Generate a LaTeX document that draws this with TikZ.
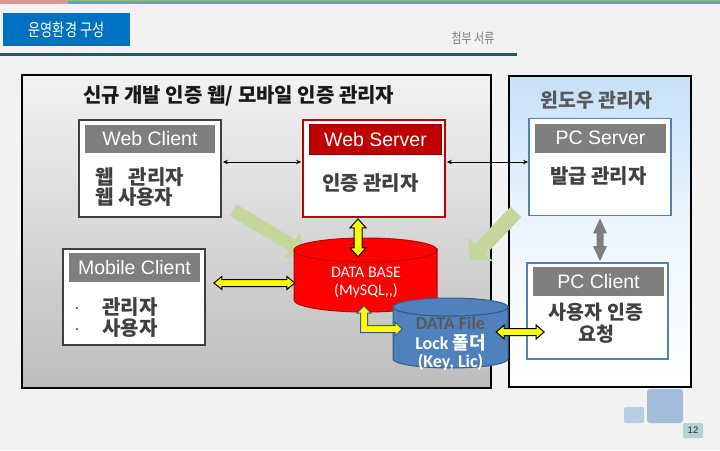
\documentclass[tikz,border=0pt]{standalone}
\usepackage{fontspec}
\setmainfont{Liberation Sans}
\newfontfamily\kr{Noto Sans CJK KR}
\newfontfamily\cb{Carlito}
\usetikzlibrary{calc,arrows.meta}
\definecolor{bg}{HTML}{F2F2F2}
\definecolor{titleblue}{HTML}{0070C0}
\definecolor{darkteal}{HTML}{215968}
\definecolor{hdrgray}{HTML}{7F7F7F}
\definecolor{boxgray}{HTML}{404040}
\definecolor{wsred}{HTML}{C00000}
\definecolor{wsredline}{HTML}{9B0000}
\definecolor{pcblue}{HTML}{4F81BD}
\definecolor{dfline}{HTML}{385D8A}
\definecolor{txtgray}{HTML}{404040}
\definecolor{titlegray}{HTML}{595959}
\definecolor{greenarr}{HTML}{C3D69B}
\definecolor{yel}{HTML}{FFFF00}
\definecolor{pinkbar}{HTML}{D99694}
\definecolor{greenbar}{HTML}{9BBB59}
\definecolor{tealbar}{HTML}{4BACC6}
\definecolor{sq1}{HTML}{B9CDE5}
\definecolor{sq2}{HTML}{A3BCDA}
\definecolor{sq3}{HTML}{B4D3D8}
\definecolor{leftTop}{HTML}{F2F2F2}
\definecolor{leftBot}{HTML}{BDBDBD}
\definecolor{rightTop}{HTML}{C6E0F8}
% double-headed block arrow: #1,#2 tips; #3 shaft half width; #4 head half width; #5 head length; #6 style
\newcommand\fatdarrow[6]{%
  \filldraw[#6] (#1) -- ($(#1)!#5!(#2)!#4!90:(#2)$) -- ($(#1)!#5!(#2)!#3!90:(#2)$)
   -- ($(#2)!#5!(#1)!#3!-90:(#1)$) -- ($(#2)!#5!(#1)!#4!-90:(#1)$) -- (#2)
   -- ($(#2)!#5!(#1)!#4!90:(#1)$) -- ($(#2)!#5!(#1)!#3!90:(#1)$)
   -- ($(#1)!#5!(#2)!#3!-90:(#2)$) -- ($(#1)!#5!(#2)!#4!-90:(#2)$) -- cycle;}
% single block arrow from #1 to tip #2
\newcommand\fatsarrow[6]{%
  \filldraw[#6] ($(#1)!#3!90:(#2)$) -- ($(#2)!#5!(#1)!#3!-90:(#1)$) -- ($(#2)!#5!(#1)!#4!-90:(#1)$)
   -- (#2) -- ($(#2)!#5!(#1)!#4!90:(#1)$) -- ($(#2)!#5!(#1)!#3!90:(#1)$)
   -- ($(#1)!#3!-90:(#2)$) -- cycle;}
\begin{document}
\begin{tikzpicture}[x=1pt,y=-1pt,
  cbox/.style={draw=#1, line width=1.8pt, fill=white, minimum width=142pt, minimum height=97pt, inner sep=0pt},
  hdr/.style={fill=hdrgray, minimum width=131pt, minimum height=29pt, inner sep=0pt, text=white,
     font=\fontsize{19.5}{20}\selectfont},
  body/.style={anchor=west, inner sep=0pt, text=txtgray, font=\kr\bfseries\fontsize{20}{21}\selectfont},
  thinarr/.style={{Stealth[length=5pt,width=4.5pt]}-{Stealth[length=5pt,width=4.5pt]}, line width=1pt, black},
  yarrow/.style={fill=yel, draw=black, line width=1pt, line join=miter},
  garrow/.style={fill=greenarr, draw=none},
  grayarrow/.style={fill=hdrgray, draw=none}
]
\useasboundingbox (0,0) rectangle (720,450);
\fill[bg] (0,0) rectangle (720,450);
% top strips
\fill[greenbar] (55,0) rectangle (720,1.2);
\fill[tealbar] (68,1.2) rectangle (720,3.5);
\fill[pinkbar] (0,0) rectangle (68,3.5);
% title
\node[fill=titleblue, minimum width=127pt, minimum height=33pt, inner sep=0pt, text=white] (title) at (66.5,29.5)
  {\scalebox{0.75}[1]{\kr\fontsize{17.5}{18}\selectfont 운영환경 구성}};
\node[inner sep=0pt, text=hdrgray] (attach) at (473,38)
  {\scalebox{0.78}[1]{\kr\fontsize{14}{14}\selectfont 첨부 서류}};
\fill[darkteal] (0,53) rectangle (517,55.5);

% left big box
\shade[top color=leftTop, bottom color=leftBot] (22,75) rectangle (491,388);
\draw[line width=2pt, black] (22,75) rectangle (491,388);
\node[inner sep=0pt, text=black!90, font=\kr\bfseries\fontsize{20}{21}\selectfont, anchor=west] (ltitle) at (83,95.5)
  {신규 개발 인증 웹/ 모바일 인증 관리자};

% right big box
\shade[top color=rightTop, bottom color=white, middle color=white!70!rightTop] (509,76) rectangle (691,387);
\draw[line width=2pt, black] (509,76) rectangle (691,387);
\node[inner sep=0pt, text=titlegray, font=\kr\bfseries\fontsize{19.5}{20}\selectfont] (rtitle) at (596.5,100)
  {윈도우 관리자};

% Web Client
\node[cbox=boxgray] (wc) at (150,168.5) {};
\node[hdr, minimum width=130pt, minimum height=28pt] (wch) at (150,139) {Web Client};
\node[body] (wct1) at (95,177) {웹\hspace{0.75em}관리자};
\node[body] (wct2) at (95,197) {웹 사용자};

% Web Server
\node[cbox=wsred] (ws) at (374,168.5) {};
\node[hdr, fill=wsred, draw=wsredline, line width=0.8pt, minimum width=132pt, minimum height=30pt] (wsh) at (375.5,139.5) {Web Server};
\node[body] (wst1) at (322,183) {인증 관리자};

% PC Server
\node[cbox=pcblue] (pcs) at (600,167) {};
\node[hdr] (pcsh) at (600.5,138) {PC Server};
\node[body] (pcst1) at (550,176) {발급 관리자};

% PC Client
\node[cbox=pcblue, minimum width=141pt, minimum height=96pt] (pcc) at (597.5,311) {};
\node[hdr] (pcch) at (598.5,281.5) {PC Client};
\node[body, anchor=center, align=center, font=\kr\bfseries\fontsize{19.5}{22}\selectfont] (pcct1) at (596,323.5) {사용자 인증\\요청};

% Mobile Client
\node[cbox=boxgray, minimum height=96pt] (mc) at (134,297) {};
\node[hdr] (mch) at (134.5,267.5) {Mobile Client};
\node[inner sep=0pt, text=txtgray, font=\bfseries\fontsize{12}{12}\selectfont] (mcb1) at (77,309) {.};
\node[inner sep=0pt, text=txtgray, font=\bfseries\fontsize{12}{12}\selectfont] (mcb2) at (77,330) {.};
\node[body] (mct1) at (102,307) {관리자};
\node[body] (mct2) at (102,328) {사용자};

% thin arrows
\draw[thinarr] ($(wc.east)+(1,-6.5)$) -- ($(ws.west)+(-1,-6.5)$);
\draw[thinarr] ($(ws.east)+(1,-6.5)$) -- ($(pcs.west)+(0,-5)$);

% green arrows (under the cylinders)
\coordinate (gr1a) at (233,210);
\coordinate (gr1b) at (305,253);
\coordinate (gr2a) at (516,212);
\coordinate (gr2b) at (470,260);
\fatsarrow{gr1a}{gr1b}{6.5pt}{15pt}{15pt}{garrow}
\fatsarrow{gr2a}{gr2b}{7.5pt}{17pt}{15pt}{garrow}

% DATA BASE cylinder
\filldraw[fill=red, draw=wsred, line width=1pt] (294,250) -- (294,300)
  arc[start angle=180, end angle=0, x radius=71.5, y radius=12] -- (437,250)
  arc[start angle=0, end angle=180, x radius=71.5, y radius=12] -- cycle;
\filldraw[fill=red, draw=wsred, line width=1pt] (365.5,250) ellipse[x radius=71.5, y radius=12];
\node[minimum width=143pt, minimum height=74pt, inner sep=0pt] (db) at (365.5,275) {};
\node[inner sep=0pt, text=white, align=center, font=\cb\fontsize{16}{18}\selectfont] (dbt) at (366,283)
  {DATA BASE\\(MySQL,,)};

% DATA File cylinder
\filldraw[fill=pcblue, draw=dfline, line width=1pt] (393,307) -- (393,359)
  arc[start angle=180, end angle=0, x radius=57.5, y radius=9] -- (508,307)
  arc[start angle=0, end angle=180, x radius=57.5, y radius=9] -- cycle;
\filldraw[fill=pcblue, draw=dfline, line width=1pt] (450.5,307) ellipse[x radius=57.5, y radius=9];
\node[minimum width=115pt, minimum height=70pt, inner sep=0pt] (df) at (450.5,333) {};
\node[inner sep=0pt, text=titlegray, font=\cb\bfseries\fontsize{18}{19}\selectfont] (dft1) at (450.5,323) {DATA File};
\node[inner sep=0pt, text=white, font=\bfseries\fontsize{18}{19}\selectfont] (dft2) at (450.5,343)
  {\cb Lock \kr 폴더};
\node[inner sep=0pt, text=white, font=\cb\bfseries\fontsize{18}{19}\selectfont] (dft3) at (450.5,362) {(Key, Lic)};

% yellow block arrows
\coordinate (y1a) at ($(ws.south)+(-16,1)$);
\coordinate (y1b) at ($(db.north)+(-7.5,19)$);
\fatdarrow{y1a}{y1b}{4pt}{8pt}{9pt}{yarrow}
\coordinate (y2a) at ($(mc.east)+(8,-14)$);
\coordinate (y2b) at ($(db.west)+(1,8)$);
\fatdarrow{y2a}{y2b}{3.5pt}{6.5pt}{8pt}{yarrow}
\coordinate (y3a) at ($(df.east)+(-12,-1)$);
\coordinate (y3b) at ($(pcc.west)+(18,21)$);
\fatdarrow{y3a}{y3b}{3.5pt}{7pt}{8pt}{yarrow}
% elbow arrow DB <-> DATA File
\filldraw[fill=yel, draw=dfline, line width=1pt, line join=miter]
  (364,306) -- (371,313) -- (367.5,313) -- (367.5,325.5) -- (395,325.5) -- (395,322) -- (402,329)
  -- (395,336) -- (395,332.5) -- (360.5,332.5) -- (360.5,313) -- (357,313) -- cycle;

% gray arrow PC Server <-> PC Client
\coordinate (g0a) at ($(pcs.south)+(0,2)$);
\coordinate (g0b) at ($(pcc.north)+(2.5,-1)$);
\fatdarrow{g0a}{g0b}{3.5pt}{7pt}{15pt}{grayarrow}

% page decoration
\fill[sq1, rounded corners=2pt] (624,407) rectangle (644,423);
\fill[sq2, rounded corners=3pt] (647,389) rectangle (683,423);
\node[fill=sq3, minimum width=20pt, minimum height=15pt, inner sep=0pt, rounded corners=1pt,
  font=\fontsize{9.5}{10}\selectfont, text=black!85] (pg) at (693,430.5) {12};
\end{tikzpicture}
\end{document}
